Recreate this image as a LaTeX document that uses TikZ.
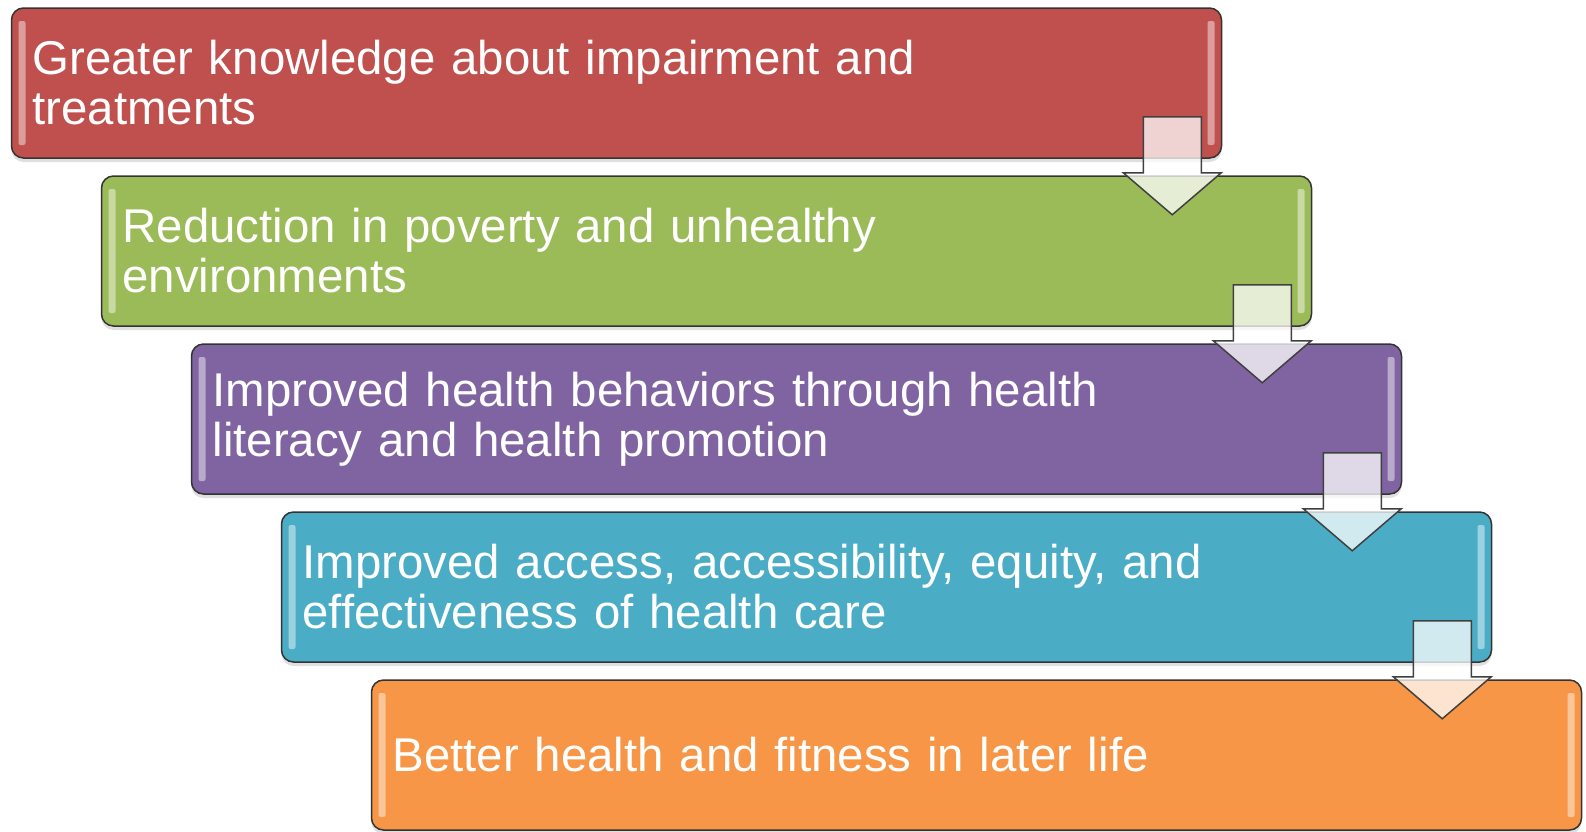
\documentclass[tikz,border=0pt]{standalone}
\usepackage{fontspec}
\setmainfont{Liberation Sans}
\usepackage{tikz}
\usetikzlibrary{positioning,calc,shadows}
\definecolor{boxred}{HTML}{C0504D}
\definecolor{boxgreen}{HTML}{9BBB59}
\definecolor{boxpurple}{HTML}{8064A2}
\definecolor{boxblue}{HTML}{4BACC6}
\definecolor{boxorange}{HTML}{F79646}
\tikzstyle{stepbox}=[rectangle, rounded corners=12pt, draw=black!80, line width=1.5pt,
  minimum width=1210pt, minimum height=150pt, text width=1168pt, inner xsep=21pt,
  align=left, text=white, font=\fontsize{47.4}{50}\selectfont,
  drop shadow={opacity=.25, shadow xshift=0pt, shadow yshift=-4pt},
  path picture={
    \fill[white, opacity=.45, rounded corners=2pt]
      ([xshift=7pt,yshift=-13pt]path picture bounding box.north west)
      rectangle ([xshift=14pt,yshift=13pt]path picture bounding box.south west);
    \fill[white, opacity=.45, rounded corners=2pt]
      ([xshift=-14pt,yshift=-13pt]path picture bounding box.north east)
      rectangle ([xshift=-7pt,yshift=13pt]path picture bounding box.south east);}]
\tikzstyle{downarrow}=[fill=white, fill opacity=.75, draw=black!75, line width=1.5pt, line join=miter]
\newcommand{\steparrow}[1]{%
  \draw[downarrow] ($(#1.south east)+(-79,42)$) -- ++(58,0) -- ++(0,-56) -- ++(20,0)
    -- ++(-49,-42) -- ++(-49,42) -- ++(20,0) -- cycle;}

\begin{document}
\begin{tikzpicture}
 [x=1pt, y=1pt, node distance=168pt]
 \useasboundingbox (0,0) rectangle (1586,-831);
 \node[stepbox, fill=boxred] (B1) at (616.5,-83) {Greater knowledge about impairment and\\treatments};
 \node[stepbox, fill=boxgreen] (B2) [below of=B1, xshift=90pt] {Reduction in poverty and unhealthy\\environments};
 \node[stepbox, fill=boxpurple] (B3) [below of=B2, xshift=90pt] {Improved health behaviors through health\\literacy and health promotion};
 \node[stepbox, fill=boxblue] (B4) [below of=B3, xshift=90pt] {Improved access, accessibility, equity, and\\effectiveness of health care};
 \node[stepbox, fill=boxorange] (B5) [below of=B4, xshift=90pt] {Better health and fitness in later life};
 \steparrow{B1}
 \steparrow{B2}
 \steparrow{B3}
 \steparrow{B4}
\end{tikzpicture}
\end{document}
